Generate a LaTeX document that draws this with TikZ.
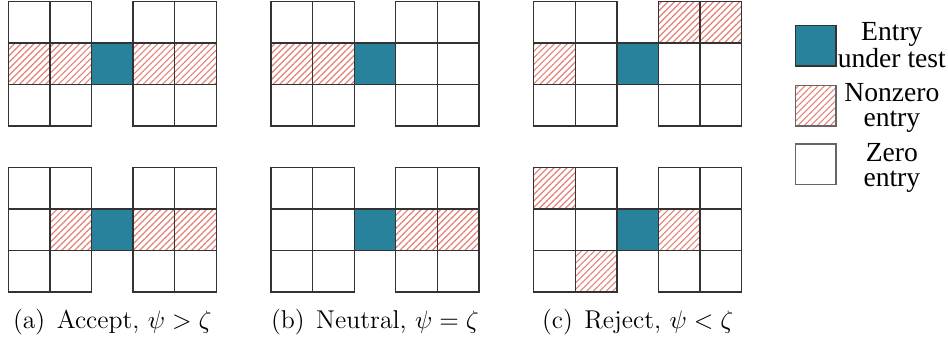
\documentclass[tikz,border=0pt]{standalone}
\usepackage{fontspec}
\newfontfamily\legendfont{Liberation Serif}
\usetikzlibrary{patterns.meta}

\definecolor{testteal}{RGB}{41,130,155}
\definecolor{hatchred}{RGB}{226,128,118}

\tikzset{
    cell/.style={draw=black!80, line width=0.55pt},
    testcell/.style={cell, fill=testteal},
    nzcell/.style={cell, pattern={Lines[angle=45, distance=2pt, line width=0.5pt]}, pattern color=hatchred},
    legbox/.style={draw=black!60, line width=0.55pt},
    legtext/.style={font=\legendfont\fontsize{12}{10.9}\selectfont, align=center, inner sep=0pt, anchor=north},
    subcap/.style={font=\fontsize{11.2}{13}\selectfont, anchor=base, inner sep=0pt},
}

% one 3x5 block of entries, top left corner at (#1,#2);
% #3 = nonzero entries as col/row (row 1 = top)
\newcommand{\entrygrid}[3]{
    \begin{scope}[shift={(#1,#2)}]
        \foreach \c in {1,2,4,5}
            \foreach \r in {1,2,3}
                \draw[cell] (\c-1,-\r) rectangle ++(1,1);
        \foreach \c/\r in {#3}
            \draw[nzcell] (\c-1,-\r) rectangle ++(1,1);
        \draw[testcell] (2,-2) rectangle ++(1,1);
    \end{scope}
}

\begin{document}
\begin{tikzpicture}[x=0.6357cm, y=0.6357cm]
    \useasboundingbox (0,0) rectangle (22.79,8.125);

    % (a) accept
    \entrygrid{0.2}{8.094}{1/2,2/2,4/2,5/2}
    \entrygrid{0.2}{4.103}{2/2,4/2,5/2}
    \node[subcap] (capA) at (2.7,0.216) {(a)\hskip5pt Accept, $\psi > \zeta$};

    % (b) neutral
    \entrygrid{6.514}{8.094}{1/2,2/2}
    \entrygrid{6.514}{4.103}{4/2,5/2}
    \node[subcap] (capB) at (9.014,0.216) {(b)\hskip5pt Neutral, $\psi = \zeta$};

    % (c) reject
    \entrygrid{12.83}{8.094}{4/1,5/1,1/2}
    \entrygrid{12.83}{4.103}{1/1,2/3,4/2}
    \node[subcap] (capC) at (15.33,0.216) {(c)\hskip5pt Reject, $\psi < \zeta$};

    % legend
    \draw[legbox, fill=testteal, draw=black!80] (19.13,6.538) rectangle ++(0.97,0.97);
    \draw[legbox, pattern={Lines[angle=45, distance=2pt, line width=0.5pt]}, pattern color=hatchred] (19.13,5.096) rectangle ++(0.97,0.97);
    \draw[legbox] (19.13,3.694) rectangle ++(0.97,0.97);
    \node[legtext] (legTest) at (21.44,7.603) {Entry\\under test};
    \node[legtext] (legNz) at (21.44,6.123) {Nonzero\\entry};
    \node[legtext] (legZero) at (21.44,4.680) {Zero\\entry};
\end{tikzpicture}
\end{document}
